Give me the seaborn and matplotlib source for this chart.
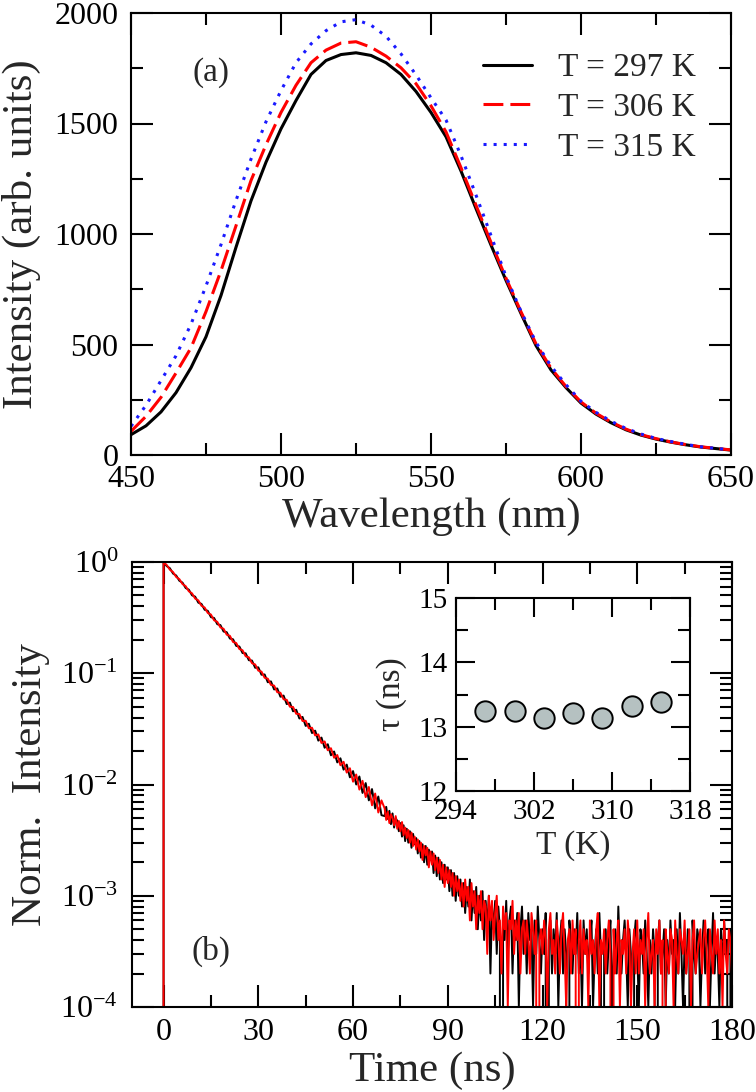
import numpy as np
import pandas as pd
import matplotlib
matplotlib.use("Agg")
import matplotlib.pyplot as plt
import seaborn as sns
from matplotlib.ticker import MultipleLocator, LogLocator, NullFormatter, FixedLocator

# ---------------- data: panel (a) emission spectra ----------------
wavelength = np.arange(450, 651, 5)
spec_297 = [92, 132, 195, 282, 395, 535, 722, 940, 1150, 1325, 1476, 1604, 1722, 1785, 1812,
            1820, 1808, 1775, 1722, 1645, 1550, 1440, 1285, 1115, 950, 790, 640, 495, 385, 305,
            235, 185, 146, 114, 90, 72, 58, 46, 36, 29, 22]
spec_306 = [107, 175, 261, 371, 485, 649, 834, 1037, 1242, 1404, 1550, 1673, 1775, 1832, 1864,
            1870, 1845, 1805, 1752, 1680, 1580, 1462, 1300, 1130, 962, 800, 648, 503, 393, 310,
            240, 189, 149, 117, 92, 74, 59, 47, 37, 30, 23]
spec_315 = [130, 225, 337, 449, 592, 765, 952, 1152, 1339, 1508, 1649, 1775, 1860, 1920, 1960,
            1970, 1945, 1895, 1815, 1720, 1616, 1516, 1354, 1176, 993, 808, 650, 510, 402, 318,
            243, 193, 153, 120, 95, 75, 61, 48, 37, 30, 23]
spec_labels = ["T = 297 K", "T = 306 K", "T = 315 K"]

# ---------------- data: panel (b) decay curves (counts) ----------------
time_early = np.arange(-2, 70, 1.0)
time_tail = np.arange(70, 180.5, 0.5)
decay_time = np.concatenate([time_early, time_tail])
PEAK_COUNTS = 10000

counts_297_early = [0, 0,
    10000, 9180, 8790, 7870, 7560, 6780, 6520, 5830, 5640, 5020,
    4880, 4310, 4200, 3720, 3640, 3190, 3140, 2760, 2710, 2370,
    2340, 2050, 2020, 1760, 1740, 1520, 1510, 1310, 1300, 1120,
    1130, 970, 975, 830, 845, 715, 730, 615, 630, 528,
    545, 455, 470, 392, 405, 336, 352, 290, 305, 248,
    264, 214, 230, 183, 198, 158, 172, 136, 151, 116,
    132, 100, 118, 84, 103, 72, 91, 61, 78, 53]
counts_297_tail = [
    52, 63, 49, 58, 44, 55, 41, 50, 47, 38,
    45, 34, 43, 31, 40, 30, 38, 27, 36, 29,
    33, 24, 31, 22, 29, 20, 28, 19, 26, 21,
    25, 16, 23, 15, 22, 14, 20, 13, 19, 14,
    18, 11, 17, 10, 16, 9, 15, 10, 14, 8,
    13, 7, 12, 8, 14, 6, 11, 7, 12, 5,
    10, 6, 11, 4, 9, 5, 10, 2, 8, 5,
    9, 3, 8, 5, 0, 7, 4, 9, 3, 6,
    8, 2, 6, 4, 7, 1, 5, 8, 3, 6,
    2, 7, 4, 5, 1, 6, 3, 8, 4, 2,
    5, 3, 7, 0, 4, 6, 2, 5, 3, 7,
    1, 4, 6, 2, 5, 3, 0, 6, 4, 2,
    5, 3, 7, 2, 4, 1, 6, 3, 5, 2,
    4, 6, 1, 3, 5, 2, 7, 3, 0, 4,
    5, 2, 4, 6, 1, 3, 5, 2, 8, 3,
    2, 4, 6, 3, 1, 5, 3, 0, 4, 6,
    3, 1, 5, 4, 2, 6, 3, 1, 4, 2,
    5, 3, 0, 4, 6, 2, 3, 5, 1, 4,
    2, 6, 3, 4, 1, 5, 2, 7, 3, 1,
    4, 2, 5, 3, 0, 6, 3, 2, 5, 4,
    1, 3, 6, 2, 4, 5, 1, 3, 7, 2,
    4, 3, 1, 5, 2, 6, 3, 4, 0, 5,
    3]
counts_306_early = [0, 0,
    9950, 9390, 8520, 8120, 7330, 7010, 6330, 6060, 5450, 5230,
    4690, 4520, 4040, 3900, 3480, 3370, 2990, 2900, 2580, 2510,
    2220, 2170, 1910, 1870, 1650, 1610, 1420, 1390, 1230, 1200,
    1055, 1035, 910, 895, 785, 775, 675, 668, 583, 577,
    500, 498, 432, 430, 372, 374, 320, 324, 276, 282,
    236, 244, 203, 212, 174, 184, 149, 160, 128, 140,
    106, 123, 90, 108, 77, 95, 65, 83, 56, 72]
counts_306_tail = [
    61, 48, 57, 45, 54, 50, 43, 52, 40, 47,
    38, 46, 35, 41, 33, 39, 30, 37, 28, 34,
    26, 32, 25, 30, 21, 28, 23, 27, 18, 25,
    19, 24, 17, 22, 16, 21, 14, 19, 12, 18,
    13, 17, 12, 16, 10, 15, 11, 14, 9, 13,
    8, 14, 9, 12, 6, 13, 8, 11, 5, 10,
    7, 11, 5, 9, 8, 3, 10, 6, 9, 4,
    7, 10, 4, 6, 2, 8, 5, 7, 1, 6,
    5, 9, 3, 6, 4, 7, 2, 5, 6, 3,
    6, 4, 2, 7, 5, 3, 6, 0, 4, 5,
    3, 6, 4, 1, 5, 7, 3, 4, 2, 6,
    4, 2, 5, 7, 3, 1, 4, 5, 2, 6,
    3, 5, 0, 4, 6, 2, 5, 3, 4, 1,
    6, 3, 4, 2, 5, 7, 1, 4, 3, 5,
    2, 4, 6, 3, 0, 5, 2, 4, 6, 1,
    4, 3, 5, 2, 6, 4, 1, 3, 5, 2,
    6, 2, 4, 3, 5, 1, 4, 7, 2, 3,
    4, 1, 5, 3, 6, 2, 4, 0, 5, 3,
    2, 5, 4, 1, 6, 3, 2, 5, 4, 3,
    6, 2, 3, 5, 1, 4, 6, 2, 3, 4,
    5, 2, 4, 6, 3, 1, 5, 3, 2, 6,
    3, 5, 2, 4, 1, 6, 3, 2, 5, 4,
    2]

# ---------------- data: inset lifetimes ----------------
inset_T = [297, 300, 303, 306, 309, 312, 315]
inset_tau = [13.24, 13.25, 13.14, 13.21, 13.13, 13.32, 13.38]
inset_xticks = [294, 302, 310, 318]
inset_xminor = [298, 306, 314]

# ---------------- style ----------------
sns.set_style("ticks")
plt.rcParams["font.family"] = ["Liberation Serif", "DejaVu Serif"]
plt.rcParams["mathtext.fontset"] = "custom"
plt.rcParams["mathtext.rm"] = "Liberation Serif"
plt.rcParams["mathtext.it"] = "Liberation Serif:italic"
plt.rcParams["mathtext.bf"] = "Liberation Serif:bold"

W, H = 756, 1092
fig = plt.figure(figsize=(W / 100, H / 100), dpi=100)
ax_a = fig.add_axes([131 / W, 1 - 455 / H, 600 / W, 442 / H])
ax_b = fig.add_axes([132 / W, 1 - 1007 / H, 600 / W, 445 / H])
ax_i = fig.add_axes([456 / W, 1 - 791 / H, 234 / W, 193 / H])


def style_axes(ax, labelsize, major_len, minor_len, xpad, ypad):
    ax.tick_params(which="both", direction="in", top=True, right=True,
                   width=1.5, colors="black", labelsize=labelsize)
    ax.tick_params(which="major", length=major_len)
    ax.tick_params(which="minor", length=minor_len)
    ax.tick_params(axis="x", pad=xpad)
    ax.tick_params(axis="y", pad=ypad)
    for s in ax.spines.values():
        s.set_linewidth(1.5)
        s.set_color("black")
        s.set_visible(True)


def place_labels(ax, xl, yl, size, xcoord, ycoord):
    ax.set_xlabel(xl, fontsize=size)
    ax.set_ylabel(yl, fontsize=size)
    ax.xaxis.set_label_coords(0.5, xcoord)
    ax.yaxis.set_label_coords(ycoord, 0.5)
    for lab in (ax.xaxis.label, ax.yaxis.label):
        lab.set_rotation_mode("default")
        lab.set_horizontalalignment("center")
        lab.set_verticalalignment("center")


# ---------------- panel (a) ----------------
colors_a = ["black", "#ff0000", "#1a1aff"]
styles_a = ["-", (0, (6.5, 2.3)), (0, (1.0, 2.3))]
for spec, lab, c, ls in zip([spec_297, spec_306, spec_315], spec_labels, colors_a, styles_a):
    sns.lineplot(x=wavelength, y=spec, ax=ax_a, color=c, lw=2.2, label=lab,
                 estimator=None, sort=False)
    ax_a.lines[-1].set_linestyle(ls)

ax_a.set_xlim(450, 650)
ax_a.set_ylim(0, 2000)
ax_a.xaxis.set_major_locator(MultipleLocator(50))
ax_a.xaxis.set_minor_locator(MultipleLocator(25))
ax_a.yaxis.set_major_locator(MultipleLocator(500))
ax_a.yaxis.set_minor_locator(MultipleLocator(250))
style_axes(ax_a, 23, 16, 8.5, 7, 9)
place_labels(ax_a, "Wavelength (nm)", "Intensity (arb. units)", 31, -0.140, -0.182)
ax_a.legend(handles=ax_a.lines[:3], labels=spec_labels, loc="upper left",
            bbox_to_anchor=(0.587, 0.91), frameon=False, fontsize=24,
            handlelength=1.45, handletextpad=0.8, labelspacing=0.28,
            borderpad=0, borderaxespad=0)
ax_a.text(0.133, 0.866, "(a)", transform=ax_a.transAxes, fontsize=24,
          ha="center", va="center")

# ---------------- panel (b) ----------------
counts_297 = np.array(counts_297_early + counts_297_tail, dtype=float)
counts_306 = np.array(counts_306_early + counts_306_tail, dtype=float)
sns.lineplot(x=decay_time, y=counts_297 / PEAK_COUNTS, ax=ax_b, color="black",
             lw=1.4, estimator=None, sort=False)
sns.lineplot(x=decay_time, y=counts_306 / PEAK_COUNTS, ax=ax_b, color="#ff0000",
             lw=1.4, estimator=None, sort=False)
ax_b.set_yscale("log")
ax_b.set_xlim(-10, 180)
ax_b.set_ylim(1e-4, 1)
ax_b.xaxis.set_major_locator(MultipleLocator(30))
ax_b.xaxis.set_minor_locator(MultipleLocator(15))
ax_b.yaxis.set_major_locator(LogLocator(base=10, numticks=10))
ax_b.yaxis.set_minor_locator(LogLocator(base=10, subs=np.arange(2, 10), numticks=100))
ax_b.yaxis.set_minor_formatter(NullFormatter())
style_axes(ax_b, 23, 16, 8.5, 8, 10)
place_labels(ax_b, "Time (ns)", "Norm.  Intensity", 31, -0.144, -0.168)
ax_b.text(0.132, 0.124, "(b)", transform=ax_b.transAxes, fontsize=24,
          ha="center", va="center")

# ---------------- inset ----------------
ax_i.set_facecolor("white")
sns.scatterplot(x=inset_T, y=inset_tau, ax=ax_i, s=215, color="#b5c1c1",
                edgecolor="black", linewidth=1.4, zorder=3)
ax_i.set_xlim(294, 318)
ax_i.set_ylim(12, 15)
ax_i.xaxis.set_major_locator(FixedLocator(inset_xticks))
ax_i.xaxis.set_minor_locator(FixedLocator(inset_xminor))
ax_i.yaxis.set_major_locator(MultipleLocator(1))
ax_i.yaxis.set_minor_locator(MultipleLocator(0.5))
style_axes(ax_i, 21, 14, 8.5, 6, 6)
place_labels(ax_i, "T (K)", "τ (ns)", 24, -0.285, -0.274)

fig.savefig("out.png", dpi=100)
